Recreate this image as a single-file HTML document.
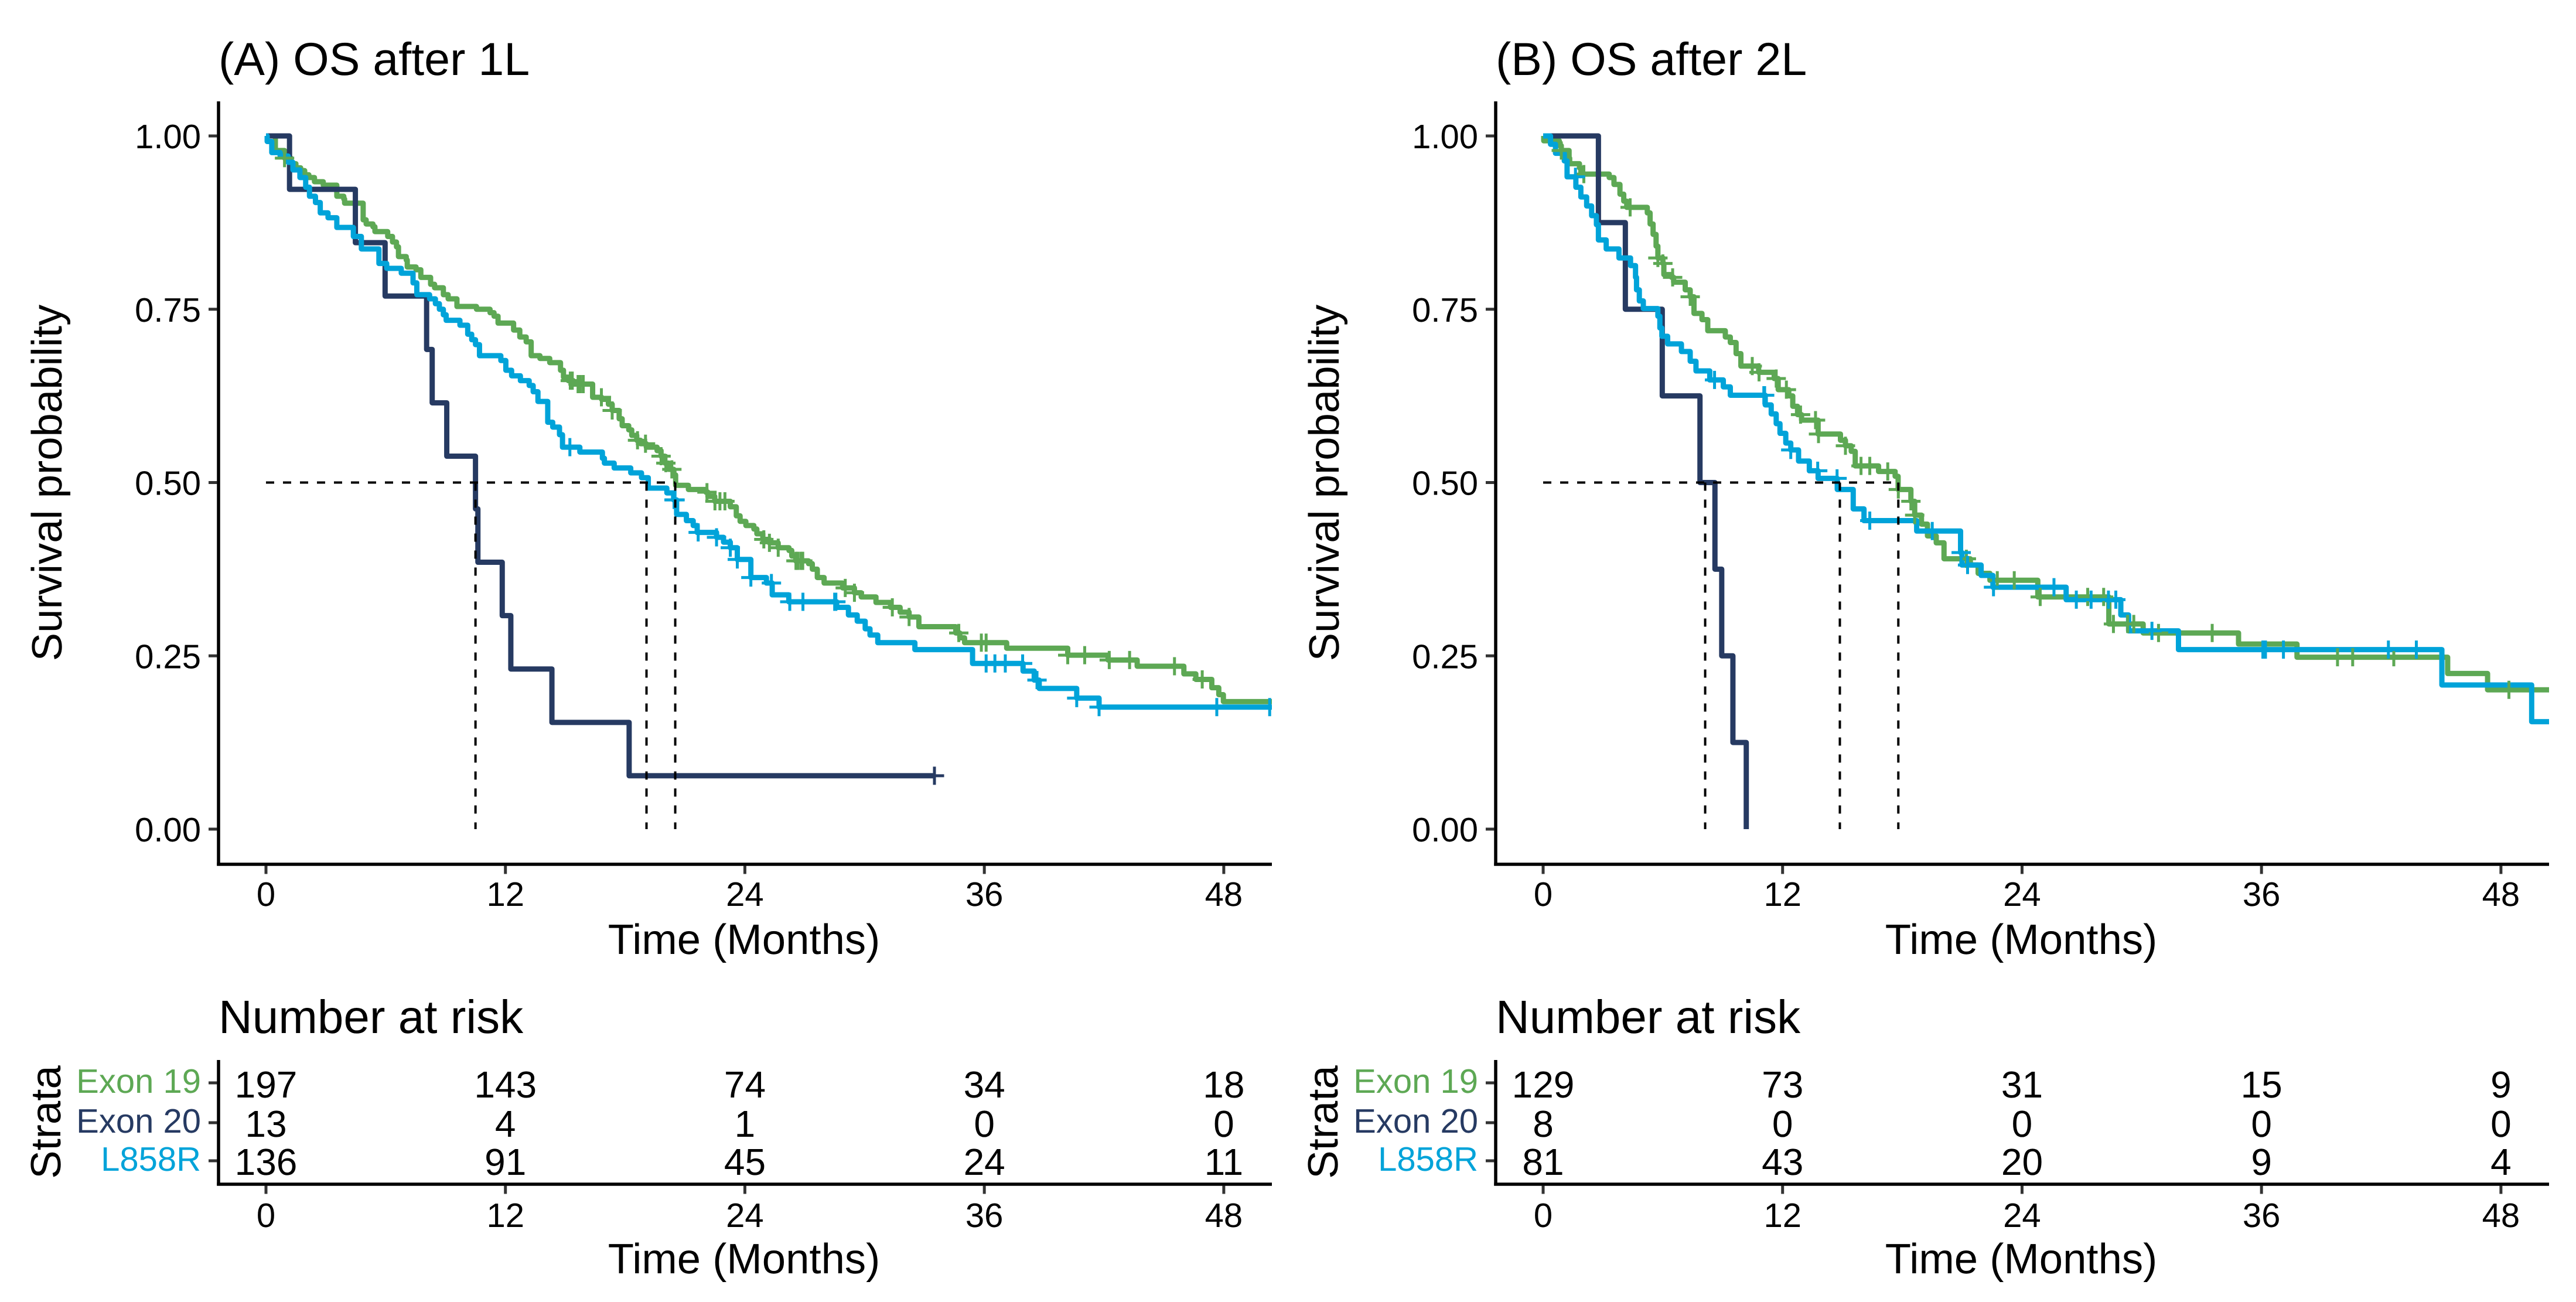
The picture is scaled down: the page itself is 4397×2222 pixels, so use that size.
<!DOCTYPE html>
<html lang="en">
<head>
<meta charset="utf-8">
<title>OS after 1L and 2L by EGFR mutation</title>
<style>
html,body{margin:0;padding:0;background:#fff;width:4397px;height:2222px;overflow:hidden}
svg{display:block}
text{font-family:"Liberation Sans",Arial,sans-serif;fill:#000;text-rendering:geometricPrecision}
.title{font-size:79px}
.risk-title{font-size:80px}
.axis-title{font-size:72.5px}
.tick{font-size:58px}
.risk{font-size:64px}
</style>
</head>
<body>
<svg xmlns="http://www.w3.org/2000/svg" width="4397" height="2222" viewBox="0 0 4397 2222">
  <rect width="4397" height="2222" fill="#fff"/>
  <g id="panel-a">
    <text class="title" x="373" y="128">(A) OS after 1L</text>
    <text class="axis-title" transform="translate(105,824) rotate(-90)" text-anchor="middle">Survival probability</text>
    <text class="axis-title" x="1270" y="1628" text-anchor="middle">Time (Months)</text>
    <text class="risk-title" x="373" y="1763">Number at risk</text>
    <text class="axis-title" transform="translate(103,1915) rotate(-90)" text-anchor="middle">Strata</text>
    <text class="axis-title" x="1270" y="2173" text-anchor="middle">Time (Months)</text>
  </g>
  <g id="panel-b" transform="translate(2180,0)">
    <text class="title" x="373" y="128">(B) OS after 2L</text>
    <text class="axis-title" transform="translate(105,824) rotate(-90)" text-anchor="middle">Survival probability</text>
    <text class="axis-title" x="1270" y="1628" text-anchor="middle">Time (Months)</text>
    <text class="risk-title" x="373" y="1763">Number at risk</text>
    <text class="axis-title" transform="translate(103,1915) rotate(-90)" text-anchor="middle">Strata</text>
    <text class="axis-title" x="1270" y="2173" text-anchor="middle">Time (Months)</text>
  </g>
</svg>
<script>
// ---- shared categories and ticks ----
const strata = ["Exon 19", "Exon 20", "L858R"];
const strataColors = ["#5DA854", "#263A62", "#00A3D9"];
const timeTicks = [0, 12, 24, 36, 48];
const survTicks = [0, 0.25, 0.5, 0.75, 1];

// ---- Panel A: OS after 1L ----
const aExon19Time = [0,.47,.93,1.25,1.5,1.74,1.94,2.15,2.43,2.87,
 3.55,3.9,3.94,4.87,5.02,5.36,5.46,6.1,6.34,6.54,
 6.64,7.03,7.08,7.52,7.76,8.25,8.45,8.89,9.13,9.57,
 10.55,11.23,11.43,11.63,12.41,12.72,13.04,13.29,13.73,14.22,
 14.76,14.91,15.15,15.4,16.37,16.82,17.16,17.35,17.7,17.85,
 18.18,18.33,18.58,18.77,19.06,19.6,19.8,19.99,20.19,20.44,
 20.53,21.17,22.05,22.15,22.49,23.27,23.57,23.76,24.05,24.45,
 24.6,24.9,25.23,25.67,26.21,26.35,26.55,27.19,27.38,27.63,
 27.97,28.9,29.49,29.83,30.57,31.3,31.78,32.23,32.72,34.57,
 34.77,35.01,37.12,40.18,42.2,43.66,46,46.6,47.4,47.75,
 47.98];
const aExon19Surv = [1,.979,.968,.96,.954,.95,.944,.94,.934,.929,
 .913,.909,.903,.879,.873,.869,.862,.855,.847,.84,
 .826,.821,.811,.807,.796,.786,.781,.771,.765,.754,
 .75,.745,.74,.73,.72,.71,.703,.683,.679,.673,
 .662,.652,.647,.642,.623,.62,.613,.604,.592,.582,
 .576,.568,.561,.556,.551,.546,.538,.528,.519,.511,
 .496,.49,.486,.48,.473,.465,.452,.444,.438,.433,
 .426,.418,.413,.406,.402,.394,.387,.383,.375,.363,
 .355,.348,.341,.335,.327,.32,.313,.306,.292,.283,
 .276,.269,.261,.251,.244,.235,.224,.216,.204,.194,
 .184];
const aExon19Censor = [.93,15.25,15.35,15.64,15.75,15.9,16.81,17.35,18.62,19.02,19.8,20.04,20.34,22.1,22.5,22.75,23,24.95,25.23,25.67,26.56,26.65,26.8,26.9,29.03,29.49,31.39,32.23,34.72,35.85,36.09,40.18,41.03,42.26,43.28,45.53,46.92];
const aExon20Time = [0,1.18,4.48,5.97,8.05,8.33,9.06,10.5,10.62,11.84,12.27,14.33,18.2];
const aExon20Surv = [1,.923,.846,.769,.692,.615,.538,.462,.385,.308,.231,.154,.077];
const aExon20Censor = [33.5];
const aL858RTime = [0,.06,.29,.71,1.11,1.35,1.7,1.99,2.18,2.48,
 2.72,3.11,3.55,4.38,4.78,5.66,6.05,6.78,7.37,7.56,
 8.2,8.49,8.69,8.89,9.03,9.72,10.11,10.31,10.5,10.7,
 11.77,12.02,12.31,12.75,13.19,13.39,13.63,14.12,14.37,14.71,
 14.86,15.73,16.86,16.96,17.45,18.28,18.82,19.16,20.09,20.43,
 20.58,21.07,21.41,21.61,22.58,22.93,23.27,23.62,24.3,25.08,
 25.37,26.2,28.6,29.19,29.63,30.03,30.27,30.66,32.52,35.41,
 37.94,38.5,38.75,40.63,41.75];
const aL858RSurv = [1,.992,.976,.971,.962,.951,.94,.926,.913,.904,
 .889,.882,.868,.855,.837,.816,.809,.802,.788,.771,
 .765,.758,.75,.742,.734,.727,.714,.706,.699,.683,
 .676,.662,.654,.647,.64,.631,.617,.587,.58,.569,
 .551,.544,.535,.528,.521,.514,.507,.492,.485,.475,
 .454,.445,.438,.428,.421,.414,.406,.389,.363,.355,
 .338,.328,.32,.309,.3,.289,.28,.269,.259,.239,
 .228,.215,.203,.189,.176];
const aL858RCensor = [15.23,20.45,20.5,21.66,22.58,23.27,23.62,24.3,25.33,26.25,26.91,28.5,28.56,36.09,36.53,37.05,37.92,38.64,40.63,41.75,47.65,50.3];
const aMedians = [20.51, 10.5, 19.07];
const aRiskExon19 = [197,143,74,34,18];
const aRiskExon20 = [13,4,1,0,0];
const aRiskL858R = [136,91,45,24,11];

// ---- Panel B: OS after 2L ----
const bExon19Time = [0,.03,.81,.91,1.3,1.33,1.82,1.89,3.31,3.55,
 3.85,4.04,4.19,5.22,5.36,5.51,5.66,5.75,6,6.05,
 6.44,6.54,7.12,7.37,7.56,7.96,8.25,9.13,9.38,9.67,
 9.91,10.8,11.58,11.78,12.31,12.51,12.75,12.95,13.78,14.9,
 15.15,15.44,15.64,16.81,17.64,17.79,18.43,18.62,18.96,19.26,
 19.7,20.09,21.41,21.8,22.39,24.79,28.35,30.07,34.85,37.78,
 45.33,47.33];
const bExon19Surv = [1,.993,.986,.979,.968,.96,.954,.945,.94,.93,
 .916,.906,.897,.889,.873,.858,.841,.824,.816,.8,
 .796,.789,.778,.768,.744,.735,.719,.71,.702,.686,
 .668,.659,.65,.634,.625,.61,.598,.59,.57,.561,
 .553,.545,.524,.516,.509,.49,.473,.453,.44,.423,
 .413,.39,.381,.369,.359,.335,.296,.283,.267,.248,
 .2245,.201];
const bExon19Censor = [.91,2.04,4.36,5.75,6,6.49,7.37,10.48,10.82,11.68,12.19,12.9,13.65,13.8,15.15,15.93,16.37,17.27,17.8,18.43,18.62,21.21,22.76,23.61,24.91,27.29,28.09,28.58,29.29,29.6,30.84,33.53,39.81,40.57,42.63,48.4];
const bExon20Time = [0,2.77,4.12,5.97,7.86,8.61,8.95,9.51,10.18];
const bExon20Surv = [1,.875,.75,.625,.5,.375,.25,.125,0];
const bExon20Censor = [];
const bL858RTime = [0,.37,.62,1.06,1.2,1.64,1.89,2.18,2.43,2.67,
 2.77,3.16,3.8,4.38,4.63,4.68,4.82,5.02,5.75,5.85,
 5.95,6.24,6.93,7.37,7.66,8.35,9.03,9.38,11.13,11.43,
 11.68,11.87,12.16,12.41,12.8,13.34,13.78,14.74,15.54,16.08,
 18.72,20.92,20.99,21.95,22.54,26.21,28.95,29.34,31.84,45.04,
 49.54];
const bL858RSurv = [1,.988,.975,.964,.941,.926,.912,.899,.885,.872,
 .85,.837,.824,.813,.796,.778,.762,.751,.74,.723,
 .711,.7,.689,.675,.661,.648,.638,.626,.612,.599,
 .585,.571,.557,.547,.531,.517,.506,.49,.462,.445,
 .43,.399,.381,.366,.349,.331,.309,.286,.259,.208,
 .155];
const bL858RCensor = [1.62,8.59,11.06,11.1,12.41,13.76,14.73,16.37,19.5,20.95,21.27,22.57,25.6,26.72,27.46,28.33,28.7,30.51,36.07,36.2,37.1,42.36,43.76];
const bMedians = [17.8, 8.12, 14.87];
const bRiskExon19 = [129,73,31,15,9];
const bRiskExon20 = [8,0,0,0,0];
const bRiskL858R = [81,43,20,9,4];

// ---- layout and axis functions (panel-local coordinates) ----
const AXIS_LEFT = 373, AXIS_RIGHT = 2171, PLOT_TOP = 173, PLOT_BOTTOM = 1475;
const RISK_TOP = 1809, RISK_BOTTOM = 2021;
const X_ORIGIN = 454, PX_PER_MONTH = 34.06;
const Y_ONE = 232, PX_PER_UNIT = 1183;
const RISK_ROW_TICK = [1848, 1916, 1981];
const RISK_ROW_LABEL = [1865, 1933, 1998];
const RISK_ROW_NUM = [1873, 1940, 2005];
function xScale(t) { return X_ORIGIN + t * PX_PER_MONTH; }
function yScale(s) { return Y_ONE + (1 - s) * PX_PER_UNIT; }
function survAt(times, survs, t) {
  let s = survs[0];
  for (let i = 0; i < times.length; i++) { if (times[i] <= t) s = survs[i]; }
  return s;
}
const NS = "http://www.w3.org/2000/svg";
function make(parent, tag, attrs, text) {
  const node = document.createElementNS(NS, tag);
  for (const k in attrs) node.setAttribute(k, attrs[k]);
  if (text !== undefined) node.textContent = text;
  parent.appendChild(node);
  return node;
}

function drawPanel(prefix, host, series, medians, riskRows) {
  const clipId = prefix + "-clip";
  const defs = make(host, "defs", {});
  const clip = make(defs, "clipPath", { id: clipId });
  make(clip, "rect", { x: AXIS_LEFT, y: PLOT_TOP, width: AXIS_RIGHT - AXIS_LEFT, height: PLOT_BOTTOM - PLOT_TOP });

  const plot = make(host, "g", { "clip-path": "url(#" + clipId + ")" });
  
  

  // step curves
  series.forEach(function (s, i) {
    let d = "M" + xScale(s.time[0]) + " " + yScale(s.surv[0]);
    for (let k = 1; k < s.time.length; k++) {
      d += "H" + xScale(s.time[k]).toFixed(2) + "V" + yScale(s.surv[k]).toFixed(2);
    }
    if (s.surv[s.surv.length - 1] > 0) d += "H" + xScale(s.end).toFixed(2);
    const line = make(plot, "path", { d: d, fill: "none", stroke: strataColors[i], "stroke-width": 9, "stroke-linejoin": "round" });
    
    
  });

  // censor marks
  series.forEach(function (s, i) {
    s.censor.forEach(function (t) {
      const cx = xScale(t), cy = yScale(survAt(s.time, s.surv, t));
      const d = "M" + (cx - 16.5).toFixed(2) + " " + cy.toFixed(2) + "h33M" + cx.toFixed(2) + " " + (cy - 15.5).toFixed(2) + "v31";
      const mark = make(plot, "path", { d: d, fill: "none", stroke: strataColors[i], "stroke-width": 5 });
      
      
    });
  });

  // median reference lines
  const medianMax = Math.max.apply(null, medians);
  const hLine = make(plot, "line", { x1: xScale(0), x2: xScale(medianMax), y1: yScale(0.5), y2: yScale(0.5), stroke: "#000", "stroke-width": 4, "stroke-dasharray": "14 15" });
  
  
  medians.forEach(function (m, i) {
    const vLine = make(plot, "line", { x1: xScale(m), x2: xScale(m), y1: yScale(0.5), y2: yScale(0), stroke: "#000", "stroke-width": 4, "stroke-dasharray": "14 15" });
    
    
  });

  // main axes
  const yAxis = make(host, "line", { x1: AXIS_LEFT, x2: AXIS_LEFT, y1: PLOT_TOP, y2: PLOT_BOTTOM + 2.5, stroke: "#000", "stroke-width": 5.5 });
  
  
  const xAxis = make(host, "line", { x1: AXIS_LEFT - 2.75, x2: AXIS_RIGHT, y1: PLOT_BOTTOM, y2: PLOT_BOTTOM, stroke: "#000", "stroke-width": 5.5 });
  
  

  survTicks.forEach(function (v) {
    const y = yScale(v);
    const tick = make(host, "line", { x1: AXIS_LEFT - 17, x2: AXIS_LEFT - 2.5, y1: y, y2: y, stroke: "#333", "stroke-width": 5 });
    
    
    const label = make(host, "text", { class: "tick", x: 343, y: y + 21, "text-anchor": "end" }, v.toFixed(2));
    
    
  });
  timeTicks.forEach(function (v) {
    const x = xScale(v);
    const tick = make(host, "line", { x1: x, x2: x, y1: PLOT_BOTTOM + 2.5, y2: PLOT_BOTTOM + 16.5, stroke: "#333", "stroke-width": 5 });
    
    
    const label = make(host, "text", { class: "tick", x: x, y: PLOT_BOTTOM + 71, "text-anchor": "middle" }, String(v));
    
    
  });

  // risk table
  const riskY = make(host, "line", { x1: AXIS_LEFT, x2: AXIS_LEFT, y1: RISK_TOP, y2: RISK_BOTTOM + 2.5, stroke: "#000", "stroke-width": 5.5 });
  
  
  const riskX = make(host, "line", { x1: AXIS_LEFT - 2.75, x2: AXIS_RIGHT, y1: RISK_BOTTOM, y2: RISK_BOTTOM, stroke: "#000", "stroke-width": 5.5 });
  
  
  strata.forEach(function (name, i) {
    const tick = make(host, "line", { x1: AXIS_LEFT - 17, x2: AXIS_LEFT - 2.5, y1: RISK_ROW_TICK[i], y2: RISK_ROW_TICK[i], stroke: "#333", "stroke-width": 5 });
    
    
    const label = make(host, "text", { class: "tick", x: 343, y: RISK_ROW_LABEL[i], "text-anchor": "end", style: "fill:" + strataColors[i] }, name);
    
    
    riskRows[i].forEach(function (n, j) {
      const cell = make(host, "text", { class: "risk", x: xScale(timeTicks[j]), y: RISK_ROW_NUM[i], "text-anchor": "middle" }, String(n));
      
      
    });
  });
  timeTicks.forEach(function (v) {
    const x = xScale(v);
    const tick = make(host, "line", { x1: x, x2: x, y1: RISK_BOTTOM + 2.5, y2: RISK_BOTTOM + 16.5, stroke: "#333", "stroke-width": 5 });
    
    
    const label = make(host, "text", { class: "tick", x: x, y: RISK_BOTTOM + 73, "text-anchor": "middle" }, String(v));
    
    
  });
}

drawPanel("panel-a", document.getElementById("panel-a"), [
  { time: aExon19Time, surv: aExon19Surv, censor: aExon19Censor, end: 51 },
  { time: aExon20Time, surv: aExon20Surv, censor: aExon20Censor, end: 33.5 },
  { time: aL858RTime, surv: aL858RSurv, censor: aL858RCensor, end: 51 }
], aMedians, [aRiskExon19, aRiskExon20, aRiskL858R]);

drawPanel("panel-b", document.getElementById("panel-b"), [
  { time: bExon19Time, surv: bExon19Surv, censor: bExon19Censor, end: 51 },
  { time: bExon20Time, surv: bExon20Surv, censor: bExon20Censor, end: 10.18 },
  { time: bL858RTime, surv: bL858RSurv, censor: bL858RCensor, end: 51 }
], bMedians, [bRiskExon19, bRiskExon20, bRiskL858R]);
</script>
</body>
</html>
